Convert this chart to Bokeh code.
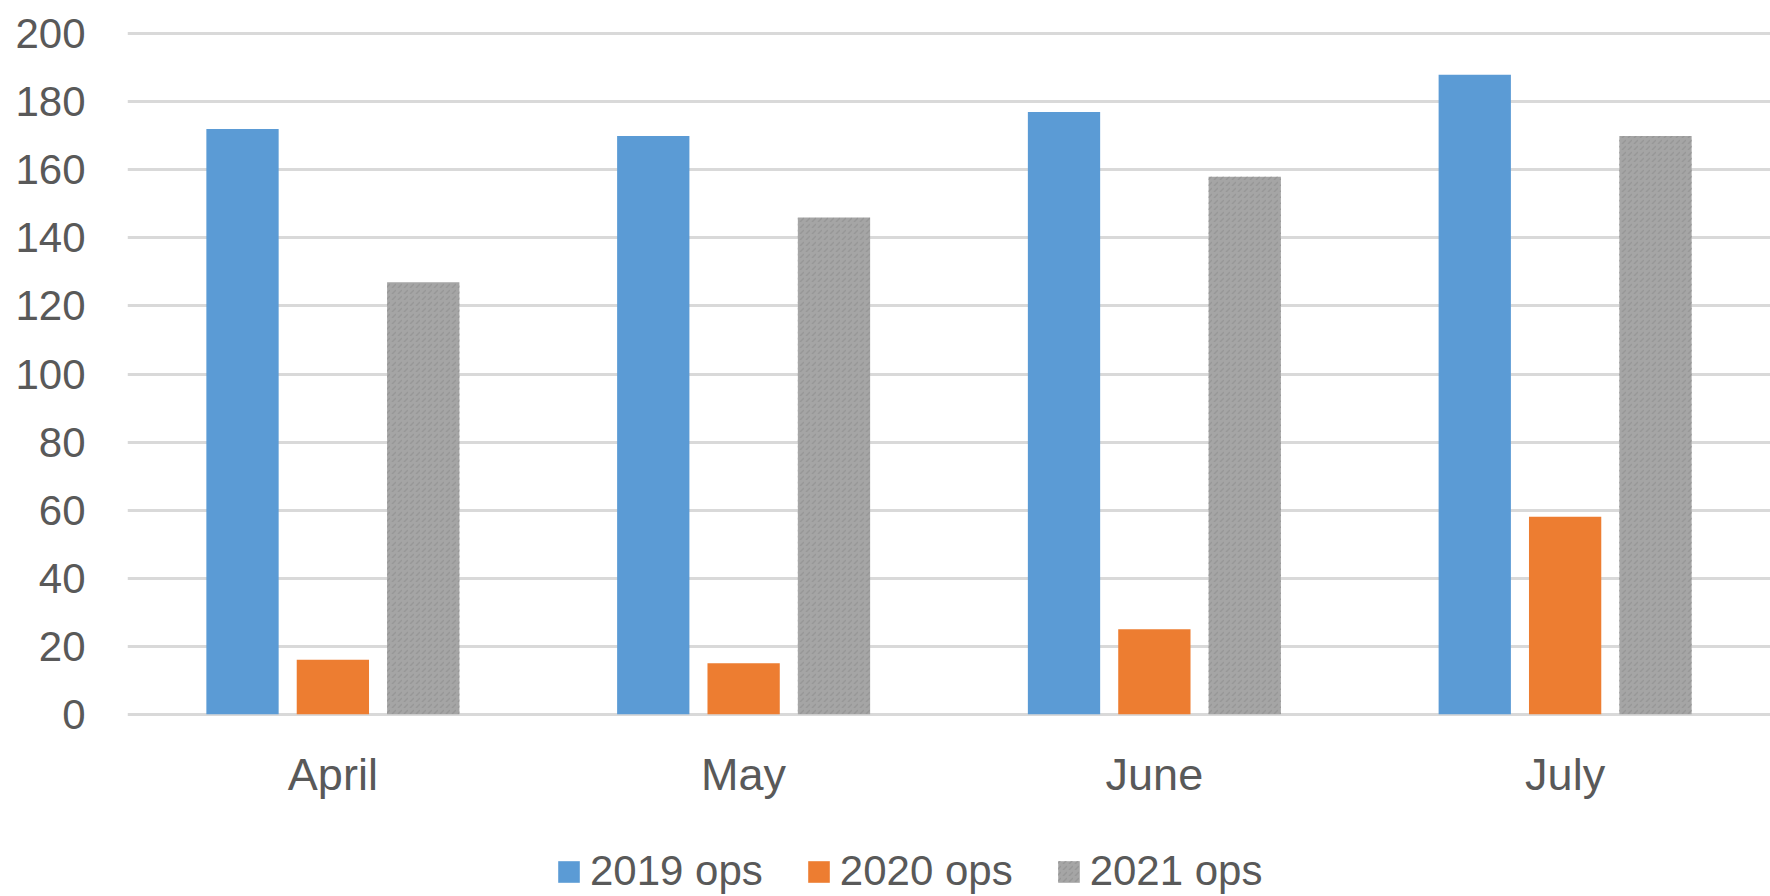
import numpy as np
from bokeh.plotting import figure
from bokeh.models import Range1d, FixedTicker, Legend, LegendItem, ColumnDataSource
from bokeh.embed import file_html
from bokeh.resources import INLINE

months = ["April", "May", "June", "July"]
ops_2019 = [172, 170, 177, 188]
ops_2020 = [16, 15, 25, 58]
ops_2021 = [127, 146, 158, 170]
series_names = ["2019 ops", "2020 ops", "2021 ops"]
y_ticks = [0, 20, 40, 60, 80, 100, 120, 140, 160, 180, 200]

FONT = "Liberation Sans"
TXT = "#595959"
GRID = "#d9d9d9"

idx = np.arange(len(months))
src = ColumnDataSource(dict(
    x1=idx - 0.22, x2=idx.astype(float), x3=idx + 0.22,
    y1=ops_2019, y2=ops_2020, y3=ops_2021))

# frame covers the full height; the area below 0 holds month labels and legend
p = figure(width=1770, height=896, output_backend="svg", toolbar_location=None,
           x_range=Range1d(-0.5, 3.5), y_range=Range1d(-53.6, 209.8),
           min_border_left=127, min_border_right=0, min_border_top=0,
           min_border_bottom=0)
p.outline_line_color = None
p.background_fill_color = "white"
p.border_fill_color = "white"

W = 0.176
r1 = p.vbar(x="x1", top="y1", width=W, source=src, fill_color="#5b9bd5", line_color=None)
r2 = p.vbar(x="x2", top="y2", width=W, source=src, fill_color="#ed7d31", line_color=None)
r3 = p.vbar(x="x3", top="y3", width=W, source=src, fill_color="#a5a5a5", line_color=None,
            hatch_pattern=",", hatch_color="#979797", hatch_scale=6, hatch_weight=1.5)

# grid
p.xgrid.visible = False
p.ygrid.ticker = FixedTicker(ticks=y_ticks)
p.ygrid.grid_line_color = GRID
p.ygrid.grid_line_width = 3

# y axis
p.yaxis.ticker = FixedTicker(ticks=y_ticks)
p.yaxis.axis_line_color = None
p.yaxis.major_tick_line_color = None
p.yaxis.minor_tick_line_color = None
p.yaxis.major_tick_out = 0
p.yaxis.major_label_standoff = 42
p.yaxis.major_label_text_font = FONT
p.yaxis.major_label_text_font_size = "42px"
p.yaxis.major_label_text_color = TXT

# x axis drawn at value 0
p.xaxis.fixed_location = 0
p.xaxis.ticker = FixedTicker(ticks=list(idx))
p.xaxis.major_label_overrides = {int(i): m for i, m in zip(idx, months)}
p.xaxis.axis_line_color = None
p.xaxis.major_tick_line_color = None
p.xaxis.minor_tick_line_color = None
p.xaxis.major_tick_out = 0
p.xaxis.major_label_standoff = 35
p.xaxis.major_label_text_font = FONT
p.xaxis.major_label_text_font_size = "45px"
p.xaxis.major_label_text_color = TXT

legend = Legend(items=[LegendItem(label=series_names[0], renderers=[r1]),
                       LegendItem(label=series_names[1], renderers=[r2]),
                       LegendItem(label=series_names[2], renderers=[r3])],
                location=(428, 1), orientation="horizontal",
                glyph_width=27, glyph_height=27, label_standoff=8, spacing=42,
                padding=0, margin=0, border_line_color=None,
                background_fill_alpha=0,
                label_text_font=FONT, label_text_font_size="42px",
                label_text_color=TXT)
p.add_layout(legend, "center")

open("out.html", "w").write(file_html(p, INLINE))
